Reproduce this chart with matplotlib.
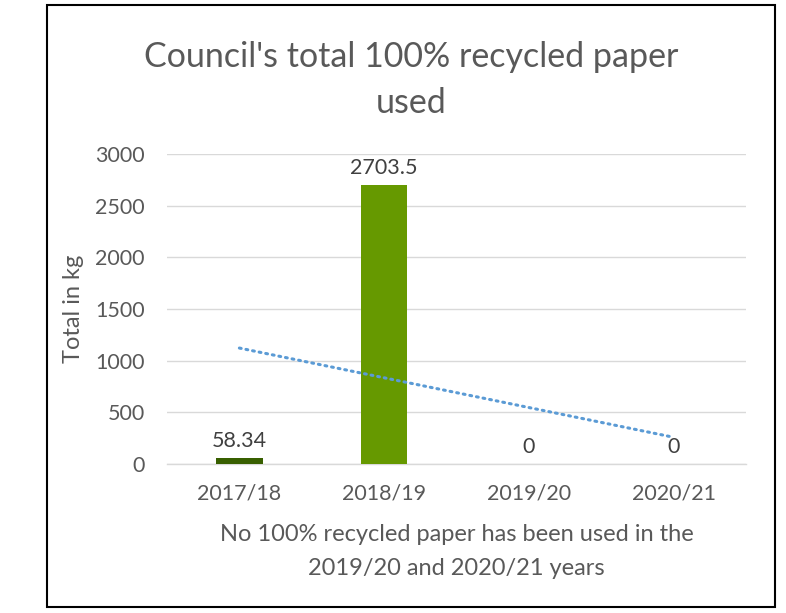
import numpy as np
import matplotlib
matplotlib.use("Agg")
import matplotlib.pyplot as plt
from matplotlib.patches import Rectangle

plt.rcParams['font.family'] = ['Lato', 'DejaVu Sans']

# data
years = ["2017/18", "2018/19", "2019/20", "2020/21"]
paper_kg = [58.34, 2703.5, 0, 0]
labels = ["58.34", "2703.5", "0", "0"]
bar_colors = ["#385F00", "#669900", "#669900", "#669900"]

grey = "#595959"

fig = plt.figure(figsize=(7.86, 6.13), dpi=100)
ax = fig.add_axes([167/786, 1 - 464/613, 579/786, 310/613])

x = np.arange(len(years))
bars = ax.bar(x, paper_kg, width=0.32, color=bar_colors, zorder=3)

# linear trendline
k, b = np.polyfit(x, paper_kg, 1)
ax.plot(x, k * x + b, color="#5B9BD5", lw=2.2, linestyle=(0, (0.6, 1.6)),
        dash_capstyle="round", zorder=4)

for i, v in enumerate(paper_kg):
    ax.annotate(labels[i], (x[i], v), xytext=(0, 5), textcoords="offset points",
                ha="center", va="bottom", fontsize=15.5, color="#404040")

ax.set_xlim(-0.5, len(years) - 0.5)
ax.set_ylim(0, 3000)
ax.set_yticks(range(0, 3001, 500))
ax.set_xticks(x)
ax.set_xticklabels(years)
ax.grid(axis="y", color="#D9D9D9", lw=1, zorder=0)
for s in ["top", "right", "left"]:
    ax.spines[s].set_visible(False)
ax.spines["bottom"].set_color("#D9D9D9")
ax.spines["bottom"].set_linewidth(1)
ax.tick_params(axis="both", length=0, labelsize=15.5, labelcolor=grey)
ax.tick_params(axis="y", pad=16)
ax.tick_params(axis="x", pad=14)

ax.set_ylabel("Total in kg", fontsize=17, color=grey)
ax.yaxis.set_label_coords(-(167 - 84) / 579, 0.5)
ax.set_xlabel("No 100% recycled paper has been used in the\n2019/20 and 2020/21 years",
              fontsize=17, color=grey, labelpad=15, linespacing=1.75)

fig.text(411/786, 1 - 41/613, "Council's total 100% recycled paper\nused",
         ha="center", va="top", fontsize=24.5, color=grey, linespacing=1.55)

fig.patches.append(Rectangle((47/786, 1 - 607/613), 728/786, 602/613,
                             transform=fig.transFigure, fill=False,
                             edgecolor="black", lw=1.5))

fig.savefig("out.png", dpi=100)
